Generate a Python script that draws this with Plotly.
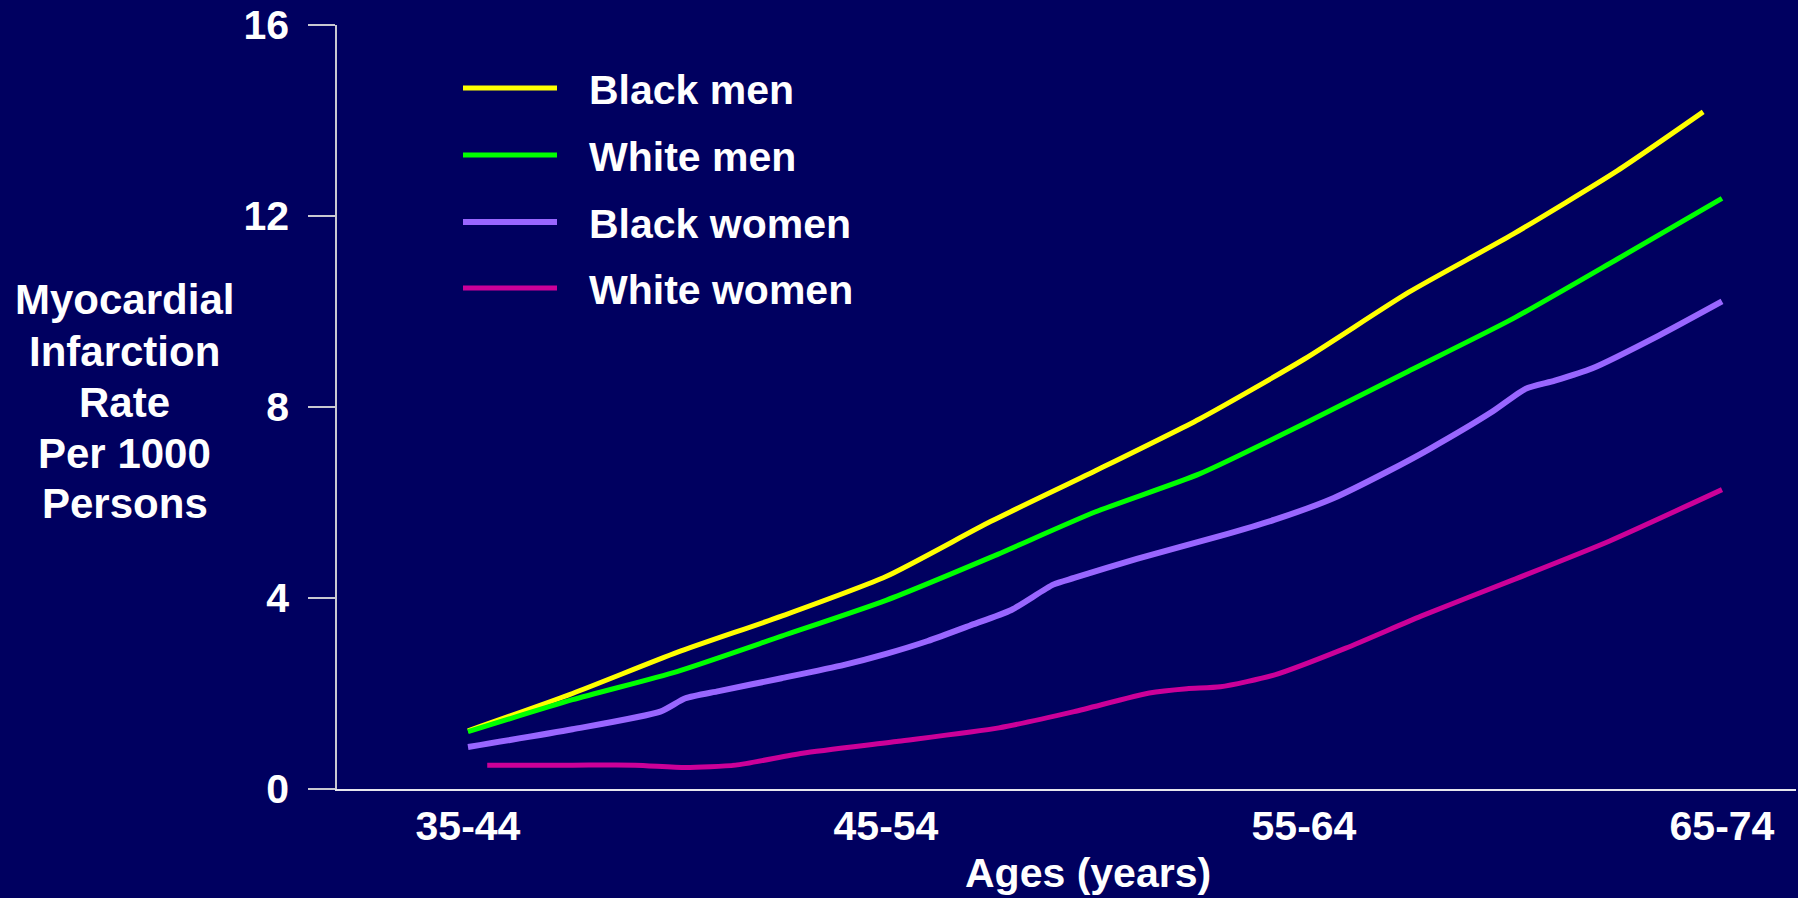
import plotly.graph_objects as go

# Age groups shown on the horizontal axis (placed at positions 0..3)
age_groups = ["35-44", "45-54", "55-64", "65-74"]
age_positions = [0, 1, 2, 3]

# Myocardial infarction rate per 1000 persons, traced along the age axis
black_men_x = [0.0, 0.25, 0.5, 0.75, 1.0, 1.25, 1.5, 1.75, 2.0, 2.25, 2.5, 2.75, 2.955]
black_men_y = [1.22, 2.0, 2.86, 3.62, 4.45, 5.6, 6.66, 7.75, 9.0, 10.4, 11.62, 12.95, 14.18]

white_men_x = [0.0, 0.25, 0.5, 0.75, 1.0, 1.25, 1.5, 1.75, 2.0, 2.25, 2.5, 2.75, 3.0]
white_men_y = [1.2, 1.87, 2.46, 3.2, 3.95, 4.85, 5.8, 6.6, 7.65, 8.75, 9.85, 11.1, 12.37]

black_women_x = [0.0, 0.25, 0.46, 0.52, 0.6, 0.75, 0.9, 1.0, 1.1, 1.2, 1.3, 1.4, 1.45,
                 1.6, 1.8, 1.93, 2.07, 2.2, 2.3, 2.45, 2.53, 2.6, 2.69, 2.85, 3.0]
black_women_y = [0.88, 1.25, 1.62, 1.9, 2.05, 2.32, 2.6, 2.83, 3.1, 3.42, 3.75, 4.28, 4.42,
                 4.82, 5.3, 5.64, 6.09, 6.65, 7.12, 7.9, 8.38, 8.55, 8.81, 9.5, 10.21]

white_women_x = [0.046, 0.25, 0.4, 0.52, 0.64, 0.8, 1.03, 1.27, 1.45, 1.63, 1.72, 1.8,
                 1.93, 2.1, 2.28, 2.5, 2.73, 3.0]
white_women_y = [0.5, 0.5, 0.5, 0.45, 0.5, 0.75, 1.0, 1.28, 1.62, 2.01, 2.1, 2.14,
                 2.39, 2.95, 3.62, 4.38, 5.19, 6.27]

series_names = ["Black men", "White men", "Black women", "White women"]
series_colors = ["#FFFF00", "#00FF00", "#9966FF", "#CC0099"]
series_widths = [5, 5, 6, 5]

y_ticks = [0, 4, 8, 12, 16]
y_title_lines = ["Myocardial", "Infarction", "Rate", "Per 1000", "Persons"]
x_title = "Ages (years)"

BG = "#000060"
FONT = "Liberation Sans, Arial, sans-serif"
W, H = 1798, 898
PLOT_L, PLOT_R, PLOT_T, PLOT_B = 337, 1796, 25, 789


def px_x(x):
    return (x - PLOT_L) / (PLOT_R - PLOT_L)


def px_y(y):
    return (PLOT_B - y) / (PLOT_B - PLOT_T)


fig = go.Figure()
all_x = [black_men_x, white_men_x, black_women_x, white_women_x]
all_y = [black_men_y, white_men_y, black_women_y, white_women_y]
for name, xs, ys, color, width in zip(series_names, all_x, all_y, series_colors, series_widths):
    fig.add_trace(go.Scatter(
        x=xs, y=ys, name=name, mode="lines",
        line=dict(color=color, width=width, shape="spline", smoothing=0.6),
        showlegend=False,
    ))

# Hand-built legend: long swatches with labels to their right
legend_rows_y = [88, 155, 222, 288]
shapes = []
annotations = []
for name, color, width, ry in zip(series_names, series_colors, series_widths, legend_rows_y):
    shapes.append(dict(type="line", xref="paper", yref="paper",
                       x0=px_x(463), x1=px_x(557), y0=px_y(ry), y1=px_y(ry),
                       line=dict(color=color, width=width)))
    annotations.append(dict(xref="paper", yref="paper", x=px_x(587), y=px_y(ry + 2),
                            xanchor="left", yanchor="middle", showarrow=False, text=name,
                            font=dict(family=FONT, size=41, color="white", weight="bold")))

# Multi-line y-axis title, one annotation per line
for i, line in enumerate(y_title_lines):
    annotations.append(dict(xref="paper", yref="paper", x=px_x(125), y=px_y(300 + 51 * i),
                            xanchor="center", yanchor="middle", showarrow=False, text=line,
                            font=dict(family=FONT, size=42, color="white", weight="bold")))

annotations.append(dict(xref="paper", yref="paper", x=px_x(1088), y=px_y(873),
                        xanchor="center", yanchor="middle", showarrow=False, text=x_title,
                        font=dict(family=FONT, size=41, color="white", weight="bold")))

x0_px = 468
step_px = 418
fig.update_layout(
    width=W, height=H,
    margin=dict(l=PLOT_L, r=W - PLOT_R, t=PLOT_T, b=H - PLOT_B, pad=0),
    paper_bgcolor=BG, plot_bgcolor=BG,
    shapes=shapes, annotations=annotations,
    showlegend=False,
    xaxis=dict(
        range=[(PLOT_L - x0_px) / step_px, (PLOT_R - x0_px) / step_px],
        tickvals=age_positions, ticktext=age_groups,
        ticks="", showline=True, linecolor="#e6e6ee", linewidth=1.5,
        showgrid=False, zeroline=False,
        tickfont=dict(family=FONT, size=41, color="white", weight="bold"),
        ticklabelstandoff=0,
    ),
    yaxis=dict(
        range=[0, 16], tickvals=y_ticks,
        ticks="outside", ticklen=27, tickwidth=1.5, tickcolor="#c8c8d0",
        showline=True, linecolor="#c8c8d0", linewidth=1.5,
        showgrid=False, zeroline=False,
        tickfont=dict(family=FONT, size=41, color="white", weight="bold"),
        ticklabelstandoff=11,
    ),
)

fig.write_html("out.html")
